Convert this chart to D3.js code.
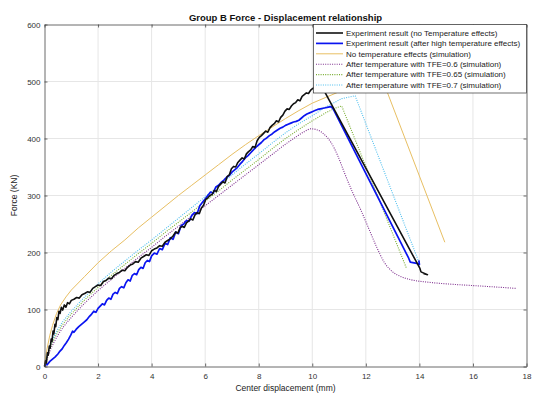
<!DOCTYPE html>
<html>
<head>
<meta charset="utf-8">
<script src="https://cdn.jsdelivr.net/npm/d3@7"></script>
<style>
  body { margin: 0; background: #fff; }
  text { font-family: "Liberation Sans", Arial, Helvetica, sans-serif; }
</style>
</head>
<body>
<svg id="chart" width="533" height="394"></svg>
<script>
// Tick values
const xTicks = [0, 2, 4, 6, 8, 10, 12, 14, 16, 18];
const yTicks = [0, 100, 200, 300, 400, 500, 600];

// Series names (legend order)
const seriesNames = [
  "Experiment result (no Temperature effects)",
  "Experiment result (after high temperature effects)",
  "No temperature effects (simulation)",
  "After temperature with TFE=0.6 (simulation)",
  "After temperature with TFE=0.65 (simulation)",
  "After temperature with TFE=0.7 (simulation)"
];

// [displacement mm, force kN]
const expNoTemp = [
  [0,0],[0.04,10],[0.07,6],[0.11,24],[0.14,20],[0.18,36],[0.21,32],[0.25,48],[0.28,44],[0.32,62],
  [0.35,57],[0.39,74],[0.42,70],[0.46,86],[0.5,82],[0.54,97],[0.58,93],[0.63,104],[0.68,99],[0.74,108],
  [0.8,104],[0.86,112],[0.93,110],[1.0,116],[1.1,118],[1.2,121],[1.3,120],[1.4,126],[1.5,128],[1.6,131],
  [1.7,130],[1.8,137],[1.9,140],[2.0,143],[2.1,142],[2.2,149],[2.3,151],[2.4,155],[2.5,154],[2.6,160],
  [2.7,163],[2.8,165],[2.9,169],[3.0,168],[3.1,174],[3.2,178],[3.3,180],[3.4,184],[3.5,183],[3.6,190],
  [3.7,193],[3.8,196],[3.9,195],[4.0,203],[4.1,206],[4.2,208],[4.3,212],[4.4,211],[4.5,218],[4.6,221],
  [4.7,224],[4.8,229],[4.9,236],[4.98,234],[5.06,243],[5.14,246],[5.22,244],[5.3,252],[5.38,255],[5.46,259],
  [5.54,257],[5.62,266],[5.7,270],[5.78,268],[5.86,278],[5.94,283],[6.02,293],[6.1,296],[6.18,300],[6.26,302],
  [6.34,309],[6.42,307],[6.5,316],[6.58,320],[6.66,324],[6.74,322],[6.82,333],[6.9,336],[6.98,347],[7.06,351],
  [7.14,350],[7.22,358],[7.3,362],[7.38,366],[7.46,364],[7.54,373],[7.62,377],[7.7,380],[7.78,386],[7.86,384],
  [7.94,396],[8.02,402],[8.1,405],[8.18,409],[8.26,413],[8.34,411],[8.42,419],[8.5,423],[8.58,426],[8.66,431],
  [8.74,429],[8.82,437],[8.9,441],[8.98,448],[9.06,452],[9.14,451],[9.22,457],[9.3,461],[9.38,463],[9.46,468],
  [9.54,466],[9.62,474],[9.7,477],[9.78,480],[9.86,479],[9.94,485],[10.02,488],[10.1,490],[10.18,494],[10.26,496],
  [10.32,499],[10.4,490],[10.44,484],
  [14.02,172],[14.06,166],[14.3,161],[14.15,163]
];

const expHighTemp = [
  [0,0],[0.05,4],[0.1,3],[0.2,9],[0.3,13],[0.4,17],[0.5,22],[0.58,27],[0.66,31],[0.74,37],
  [0.82,42],[0.9,48],[0.98,55],[1.05,62],[1.1,60],[1.18,65],[1.28,70],[1.38,74],[1.48,78],[1.58,82],
  [1.68,88],[1.76,92],[1.84,97],[1.92,95],[2.0,102],[2.08,106],[2.16,110],[2.24,108],[2.32,116],[2.4,120],
  [2.48,118],[2.56,127],[2.64,130],[2.72,128],[2.8,137],[2.88,140],[2.96,138],[3.04,147],[3.12,152],[3.2,150],
  [3.28,160],[3.36,163],[3.44,161],[3.52,170],[3.6,174],[3.68,172],[3.76,182],[3.84,186],[3.92,184],[4.0,194],
  [4.1,199],[4.2,197],[4.3,207],[4.4,205],[4.5,216],[4.6,214],[4.7,226],[4.8,223],[4.9,236],[5.0,233],
  [5.1,247],[5.2,250],[5.3,256],[5.4,255],[5.5,265],[5.6,270],[5.7,268],[5.8,282],[5.9,288],[6.0,294],
  [6.1,300],[6.2,306],[6.3,304],[6.4,315],[6.5,318],[6.6,323],[6.7,327],[6.8,332],[6.9,335],[7.0,341],
  [7.1,345],[7.2,349],[7.3,355],[7.4,360],[7.5,366],[7.6,370],[7.7,375],[7.8,380],[7.9,385],[8.0,389],
  [8.1,393],[8.2,398],[8.3,401],[8.4,405],[8.5,408],[8.6,412],[8.7,415],[8.8,418],[8.9,420],[9.0,423],
  [9.1,425],[9.2,427],[9.3,429],[9.4,430],[9.5,432],[9.6,436],[9.7,440],[9.8,443],[9.9,445],[10.0,447],
  [10.1,449],[10.2,451],[10.3,452],[10.4,453],[10.5,454],[10.6,455],[10.7,456],[10.78,452],
  [13.6,190],[13.66,183],[13.9,181],[14.0,179],[13.98,186]
];

const simNoTemp = [
  [0,0],[0.05,18],[0.1,32],[0.2,55],[0.3,72],[0.45,93],[0.6,108],[0.8,122],[1.0,134],[1.5,158],
  [2,182],[2.5,203],[3,222],[3.5,243],[4,262],[4.5,281],[5,300],[5.5,318],[6,336],[6.5,354],
  [7,372],[7.5,389],[8,405],[8.5,420],[9,435],[9.5,449],[10,462],[10.5,472],[11,482],[11.5,491],
  [12,500],[12.55,512],[14.95,218]
];

const simTfe06 = [
  [0,0],[0.1,14],[0.2,27],[0.35,42],[0.5,55],[0.7,69],[1,86],[1.5,111],[2,133],[2.5,153],
  [3,172],[3.5,191],[4,209],[4.5,228],[5,246],[5.5,264],[6,282],[6.5,300],[7,318],[7.5,336],
  [8,354],[8.5,372],[9,390],[9.4,403],[9.7,412],[9.95,417],[10.2,415],[10.45,407],[10.7,393],[10.95,370],
  [11.2,340],[11.5,306],[11.8,276],[12.1,243],[12.4,210],[12.7,182],[13.0,166],[13.3,158],[13.7,152],[14.3,148],
  [15,145],[16,142],[17,139],[17.6,137]
];

const simTfe065 = [
  [0,0],[0.1,18],[0.2,32],[0.35,48],[0.5,61],[0.7,75],[1,92],[1.5,117],[2,139],[2.5,160],
  [3,179],[3.5,198],[4,216],[4.5,235],[5,253],[5.5,271],[6,290],[6.5,308],[7,327],[7.5,345],
  [8,363],[8.5,382],[9,400],[9.5,416],[10,431],[10.5,445],[10.9,454],[11.1,457],[13.52,172]
];

const simTfe07 = [
  [0,0],[0.1,20],[0.2,35],[0.35,52],[0.5,66],[0.7,80],[1,97],[1.5,122],[2,145],[2.5,166],
  [3,185],[3.5,204],[4,222],[4.5,241],[5,260],[5.5,279],[6,298],[6.5,317],[7,336],[7.5,355],
  [8,373],[8.5,392],[9,410],[9.5,426],[10,440],[10.5,455],[11.1,470],[11.6,475],[14.0,181]
];

const svg = d3.select("#chart");
const x = d3.scaleLinear().domain([0, 18]).range([44.5, 526.5]);
const y = d3.scaleLinear().domain([0, 600]).range([366.5, 24.5]);

// Grid
const grid = svg.append("g");
grid.selectAll("line.vx").data(xTicks.slice(1, -1)).enter().append("line")
  .attr("x1", d => x(d)).attr("x2", d => x(d))
  .attr("y1", y(0)).attr("y2", y(600))
  .attr("stroke", "#e6e6e6").attr("stroke-width", 1);
grid.selectAll("line.hy").data(yTicks.slice(1, -1)).enter().append("line")
  .attr("x1", x(0)).attr("x2", x(18))
  .attr("y1", d => y(d)).attr("y2", d => y(d))
  .attr("stroke", "#e6e6e6").attr("stroke-width", 1);

const styles = [
  { data: expNoTemp,   color: "#111111", width: 1.6, dash: null },
  { data: expHighTemp, color: "#0a14f0", width: 1.7, dash: null },
  { data: simNoTemp,   color: "#e8bf63", width: 1.0, dash: null },
  { data: simTfe06,    color: "#7e2f8e", width: 1.1, dash: "1,1.3" },
  { data: simTfe065,   color: "#77ac30", width: 1.1, dash: "1,1.3" },
  { data: simTfe07,    color: "#4dbeee", width: 1.1, dash: "1,1.3" }
];

const line = d3.line().x(d => x(d[0])).y(d => y(d[1]));
const smooth = d3.line().x(d => x(d[0])).y(d => y(d[1])).curve(d3.curveMonotoneX);

// simulations first, experiments on top
[2, 3, 4, 5, 1, 0].forEach(i => {
  const s = styles[i];
  svg.append("path")
    .attr("d", (i === 3 ? smooth : line)(s.data))
    .attr("fill", "none")
    .attr("stroke", s.color)
    .attr("stroke-width", s.width)
    .attr("stroke-dasharray", s.dash)
    .attr("stroke-linejoin", "round");
});

// Axes with inward ticks on all sides
const axisColor = "#444";
const fmt = d3.format("d");
const gx = svg.append("g").attr("transform", `translate(0,${y(0)})`)
  .call(d3.axisBottom(x).tickValues(xTicks).tickFormat(fmt).tickSizeInner(-3).tickSizeOuter(0).tickPadding(7));
const gy = svg.append("g").attr("transform", `translate(${x(0)},0)`)
  .call(d3.axisLeft(y).tickValues(yTicks).tickFormat(fmt).tickSizeInner(-3).tickSizeOuter(0).tickPadding(4));
const gxt = svg.append("g").attr("transform", `translate(0,${y(600)})`)
  .call(d3.axisTop(x).tickValues(xTicks).tickFormat("").tickSizeInner(-3).tickSizeOuter(0));
const gyr = svg.append("g").attr("transform", `translate(${x(18)},0)`)
  .call(d3.axisRight(y).tickValues(yTicks).tickFormat("").tickSizeInner(-3).tickSizeOuter(0));
[gx, gy, gxt, gyr].forEach(g => {
  g.selectAll("path.domain").attr("stroke", axisColor).attr("stroke-width", 0.8);
  g.selectAll("line").attr("stroke", axisColor).attr("stroke-width", 0.8);
  g.selectAll("text").attr("fill", "#333").style("font-size", "8px")
    .style("font-family", "'Liberation Sans', Arial, sans-serif");
});

// Title and axis labels
svg.append("text").attr("x", 285.5).attr("y", 20.5).attr("text-anchor", "middle")
  .style("font-size", "9.5px").style("font-weight", "bold").attr("fill", "#111")
  .text("Group B Force - Displacement relationship");
svg.append("text").attr("x", 285.5).attr("y", 391).attr("text-anchor", "middle")
  .style("font-size", "8.5px").attr("fill", "#222")
  .text("Center displacement (mm)");
svg.append("text").attr("transform", `translate(17,${(y(0) + y(600)) / 2}) rotate(-90)`)
  .attr("text-anchor", "middle")
  .style("font-size", "8.5px").attr("fill", "#222")
  .text("Force (KN)");

// Legend
const lg = svg.append("g");
lg.append("rect").attr("x", 313.5).attr("y", 24.5).attr("width", 213).attr("height", 68.5)
  .attr("fill", "#fff").attr("stroke", "#333").attr("stroke-width", 0.7);
seriesNames.forEach((name, i) => {
  const cy = 33 + i * 10.4;
  const s = styles[i];
  lg.append("line").attr("x1", 316).attr("x2", 343).attr("y1", cy).attr("y2", cy)
    .attr("stroke", s.color).attr("stroke-width", s.width)
    .attr("stroke-dasharray", s.dash);
  lg.append("text").attr("x", 346).attr("y", cy).attr("dy", "0.35em")
    .style("font-size", "8px").attr("fill", "#222").text(name);
});
</script>
</body>
</html>
